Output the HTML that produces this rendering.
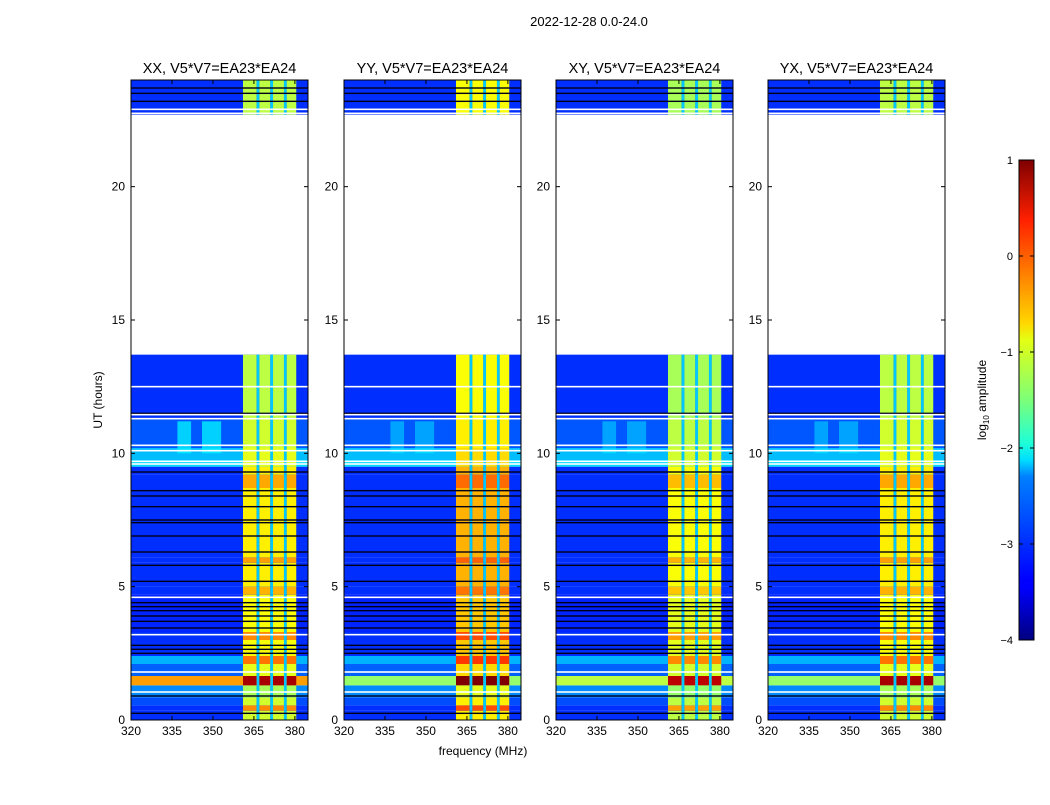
<!DOCTYPE html>
<html><head><meta charset="utf-8">
<style>
body{margin:0;background:#fff;font-family:"Liberation Sans",sans-serif;}
svg text{font-family:"Liberation Sans",sans-serif;}
</style></head>
<body>
<svg id="fig" width="1050" height="800" viewBox="0 0 1050 800" xmlns="http://www.w3.org/2000/svg">
<defs>
<linearGradient id="jet" x1="0" y1="1" x2="0" y2="0">
<stop offset="0" stop-color="#00007f"/><stop offset="0.11" stop-color="#0000ff"/>
<stop offset="0.125" stop-color="#0000ff"/><stop offset="0.34" stop-color="#0080ff"/>
<stop offset="0.375" stop-color="#00ddff"/><stop offset="0.41" stop-color="#1effd8"/>
<stop offset="0.5" stop-color="#7cff79"/><stop offset="0.625" stop-color="#e4ff13"/>
<stop offset="0.66" stop-color="#ffd700"/><stop offset="0.875" stop-color="#ff2000"/>
<stop offset="1" stop-color="#7f0000"/>
</linearGradient>
</defs>
<text x="589" y="26" font-size="13" text-anchor="middle">2022-12-28 0.0-24.0</text>
<text x="483" y="755" font-size="12" text-anchor="middle">frequency (MHz)</text>
<text transform="translate(102,400) rotate(-90)" font-size="12" text-anchor="middle">UT (hours)</text>
<g id="panels"></g>
<g>
<rect x="1019" y="160" width="15" height="480" fill="url(#jet)" stroke="#000" stroke-width="1"/>
<g id="cbticks"></g>
<text transform="translate(986,400) rotate(-90)" font-size="12" text-anchor="middle">log<tspan font-size="8" dy="3">10</tspan><tspan dy="-3"> amplitude</tspan></text>
</g>
</svg>
<script>
const panelTitles = ["XX, V5*V7=EA23*EA24","YY, V5*V7=EA23*EA24","XY, V5*V7=EA23*EA24","YX, V5*V7=EA23*EA24"];
const panelBandShift = [0, 0.3, -0.1, 0];
const panelSpikeBg = [-0.4, -1.4, -1.2, -1.4];
const segStart = [0,0.35,0.55,0.85,1.3,1.65,2.1,2.4,3.0,3.3,4.7,5.0,5.9,6.1,8.7,9.2,9.5,9.75,10.2,11.3,22.7];
const segEnd   = [0.35,0.55,0.85,1.3,1.65,2.1,2.4,3.0,3.3,4.7,5.0,5.9,6.1,8.7,9.2,9.5,9.75,10.2,11.3,13.7,24.0];
const segBg    = [-3.15,-3.15,-3.0,-2.7,-0.4,-2.9,-2.5,-3.15,-3.15,-3.2,-3.15,-3.15,-3.15,-3.15,-3.15,-3.15,-2.3,-2.45,-2.95,-3.15,-3.15];
const segBand  = [-1.1,-0.3,-1.1,-1.3,0.8,-1.0,-0.2,-0.9,-0.3,-0.9,-0.5,-0.8,-0.4,-0.8,-0.45,-0.8,-1.0,-1.0,-1.1,-1.2,-1.2];
const bandEdges = [361,366,367,371,372,376,377,380.5];
const bandIsGap = [0,1,0,1,0,1,0];
const blobF0=[337,346], blobF1=[342,353], blobT0=[10.0,10.0], blobT1=[11.2,11.2], blobV=[-2.2,-2.2];
const whiteLines=[1.05,1.8,3.2,4.6,9.6,9.7,10.1,10.3,11.3,11.45,12.5,22.75,22.9];
const blackLines=[0.25,0.9,2.5,2.65,2.8,3.45,3.7,3.9,4.1,4.25,4.4,5.2,5.8,6.3,6.9,7.4,7.5,8.0,8.4,8.6,9.3,11.5,23.2,23.5,23.7];
const yTicks=[0,5,10,15,20], xTicks=[320,335,350,365,380], cbTicks=[1,0,-1,-2,-3,-4];
const panelX0=[131,344,556,768], PW=177, PT=80, PB=720;
const F0=320,F1=384.8,T1=24;

function jet(v){let t=(v+4)/5;t=Math.max(0,Math.min(1,t));
 const r=Math.max(0,Math.min(1,1.5-Math.abs(4*t-3))),g=Math.max(0,Math.min(1,1.5-Math.abs(4*t-2))),b=Math.max(0,Math.min(1,1.5-Math.abs(4*t-1)));
 return `rgb(${Math.round(r*255)},${Math.round(g*255)},${Math.round(b*255)})`;}
const NS="http://www.w3.org/2000/svg";
function el(tag,attrs,parent){const e=document.createElementNS(NS,tag);for(const k in attrs)e.setAttribute(k,attrs[k]);parent.appendChild(e);return e;}
const root=document.getElementById('panels');
panelTitles.forEach((title,p)=>{
 const x0=panelX0[p];
 const xs=f=>x0+(f-F0)/(F1-F0)*PW, ys=t=>PB-t/T1*(PB-PT);
 const g=el('g',{},root);
 
 
 for(let i=0;i<segStart.length;i++){
  const y1=ys(segEnd[i]),y2=ys(segStart[i]);
  const bg=(i===4)?panelSpikeBg[p]:segBg[i];
  const r=el('rect',{x:xs(F0),y:y1,width:PW,height:y2-y1,fill:jet(bg)},g);
  
  
  for(let j=0;j<bandEdges.length-1;j++){
   const v=bandIsGap[j]?-2.4:segBand[i]+panelBandShift[p];
   const c=el('rect',{x:xs(bandEdges[j]),y:y1,width:xs(bandEdges[j+1])-xs(bandEdges[j]),height:y2-y1,fill:jet(v)},g);
   
   
  }
 }
 for(let k=0;k<blobF0.length;k++){
  const b=el('rect',{x:xs(blobF0[k]),y:ys(blobT1[k]),width:xs(blobF1[k])-xs(blobF0[k]),height:ys(blobT0[k])-ys(blobT1[k]),fill:jet(blobV[k]),opacity:p===0?0.8:0.5},g);
  
  
 }
 blackLines.forEach(t=>{const l=el('rect',{x:x0,y:ys(t)-0.7,width:PW,height:1.4,fill:'#000018'},g);
  
  });
 whiteLines.forEach(t=>{const l=el('rect',{x:x0,y:ys(t)-0.8,width:PW,height:1.6,fill:'#fff'},g);
  
  });
 const fr=el('rect',{x:x0,y:PT,width:PW,height:PB-PT,fill:'none',stroke:'#000','stroke-width':1},g);
 
 
 const tt=el('text',{x:x0+PW/2,y:73,'font-size':14.5,'text-anchor':'middle'},g);tt.textContent=title;
 
 
 yTicks.forEach(t=>{const y=ys(t);
  el('line',{x1:x0,x2:x0+4,y1:y,y2:y,stroke:'#000'},g);el('line',{x1:x0+PW-4,x2:x0+PW,y1:y,y2:y,stroke:'#000'},g);
  const tx=el('text',{x:x0-6,y:y+4,'font-size':12,'text-anchor':'end'},g);tx.textContent=t;
  
  });
 xTicks.forEach(f=>{const x=xs(f);
  el('line',{x1:x,x2:x,y1:PB,y2:PB-4,stroke:'#000'},g);el('line',{x1:x,x2:x,y1:PT,y2:PT+4,stroke:'#000'},g);
  const tx=el('text',{x:x,y:PB+15,'font-size':12,'text-anchor':'middle'},g);tx.textContent=f;
  
  });
});
const cb=document.getElementById('cbticks');
cbTicks.forEach(v=>{const y=160+(1-v)*96;
 el('line',{x1:1019,x2:1023,y1:y,y2:y,stroke:'#000'},cb);el('line',{x1:1030,x2:1034,y1:y,y2:y,stroke:'#000'},cb);
 const tx=el('text',{x:1013,y:y+4,'font-size':11,'text-anchor':'end'},cb);tx.textContent=v<0?'\u2212'+(-v):v;
 
 });
</script>
</body></html>
